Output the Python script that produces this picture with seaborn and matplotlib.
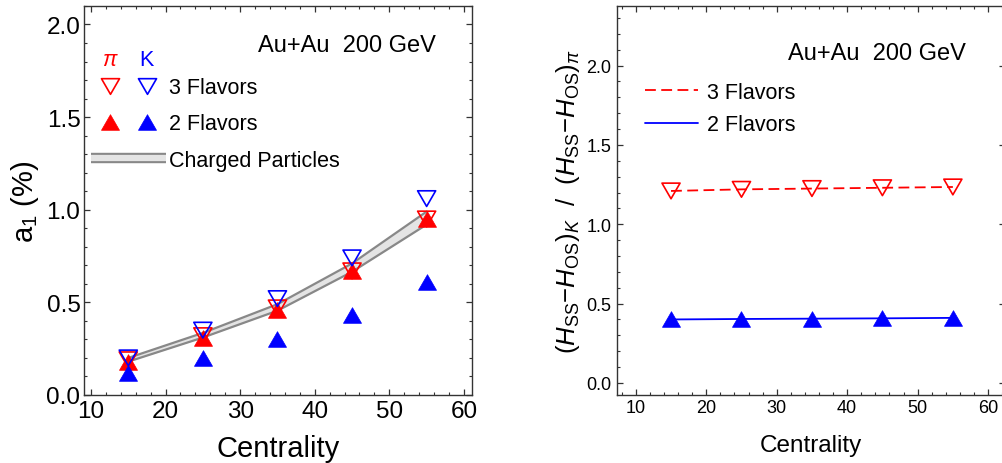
import matplotlib
matplotlib.use("Agg")
import numpy as np
import pandas as pd
import matplotlib.pyplot as plt
import seaborn as sns
from matplotlib.lines import Line2D
from matplotlib.path import Path
from matplotlib.legend_handler import HandlerTuple
from matplotlib.ticker import MultipleLocator

# centrality bins
centrality = [15, 25, 35, 45, 55]

# left panel: a1 (%)
pi_3f = [0.19, 0.32, 0.47, 0.67, 0.95]
k_3f = [0.20, 0.35, 0.52, 0.74, 1.06]
pi_2f = [0.18, 0.31, 0.46, 0.67, 0.95]
k_2f = [0.12, 0.20, 0.30, 0.43, 0.61]
charged_lo = [0.18, 0.31, 0.455, 0.665, 0.92]
charged_hi = [0.20, 0.335, 0.49, 0.71, 0.99]

# right panel: ratio K / pi
ratio_3f = [1.21, 1.22, 1.225, 1.23, 1.235]
ratio_2f = [0.40, 0.403, 0.405, 0.407, 0.41]

df = pd.DataFrame({
    "cent": centrality,
    "pi_3f": pi_3f, "k_3f": k_3f, "pi_2f": pi_2f, "k_2f": k_2f,
    "ch_lo": charged_lo, "ch_hi": charged_hi,
    "r_3f": ratio_3f, "r_2f": ratio_2f,
})

sns.set_style("ticks")
plt.rcParams["font.family"] = ["Liberation Sans", "DejaVu Sans"]
plt.rcParams["mathtext.fontset"] = "custom"
plt.rcParams["mathtext.rm"] = "Liberation Sans"
plt.rcParams["mathtext.it"] = "Liberation Sans:italic"
plt.rcParams["mathtext.bf"] = "Liberation Sans:bold"
plt.rcParams["mathtext.sf"] = "Liberation Sans"
for k in ["text.color", "axes.labelcolor", "xtick.labelcolor", "ytick.labelcolor"]:
    plt.rcParams[k] = "black"

# equilateral triangles (closed paths)
tri_down = Path([(-1, 0.866), (1, 0.866), (0, -0.866), (-1, 0.866)], closed=True)
tri_up = Path([(-1, -0.866), (1, -0.866), (0, 0.866), (-1, -0.866)], closed=True)
ms = 13
frame_col = "#333333"

fig = plt.figure(figsize=(10.03, 4.64), dpi=100)
ax1 = fig.add_axes([0.0837, 0.1466, 0.3868, 0.8384])
ax2 = fig.add_axes([0.6152, 0.1466, 0.3868, 0.8384])

# ---------- left panel ----------
ax1.fill_between(df["cent"], df["ch_lo"], df["ch_hi"], color="#e4e4e4", lw=0, zorder=1)
sns.lineplot(data=df, x="cent", y="ch_lo", color="#888888", lw=1.6, ax=ax1, zorder=2)
sns.lineplot(data=df, x="cent", y="ch_hi", color="#888888", lw=1.6, ax=ax1, zorder=2)

sns.scatterplot(data=df, x="cent", y="pi_2f", marker=tri_up, s=ms**2, color="red",
                edgecolor="red", linewidth=0.5, ax=ax1, zorder=3)
sns.scatterplot(data=df, x="cent", y="pi_3f", marker=tri_down, s=ms**2,
                facecolor="none", edgecolor="red", linewidth=1.2, ax=ax1, zorder=4)
sns.scatterplot(data=df, x="cent", y="k_2f", marker=tri_up, s=ms**2, color="blue",
                edgecolor="blue", linewidth=0.5, ax=ax1, zorder=5)
sns.scatterplot(data=df, x="cent", y="k_3f", marker=tri_down, s=ms**2,
                facecolor="none", edgecolor="blue", linewidth=1.2, ax=ax1, zorder=6)

ax1.set_xlim(9.06, 61.07)
ax1.set_ylim(0, 2.1)
ax1.xaxis.set_major_locator(MultipleLocator(10))
ax1.xaxis.set_minor_locator(MultipleLocator(2))
ax1.yaxis.set_major_locator(MultipleLocator(0.5))
ax1.yaxis.set_minor_locator(MultipleLocator(0.1))
ax1.yaxis.set_major_formatter(plt.FormatStrFormatter("%.1f"))
ax1.tick_params(which="both", direction="in", top=True, right=True, color=frame_col)
ax1.tick_params(which="major", length=4, width=0.9, labelsize=17.5)
ax1.tick_params(which="minor", length=2, width=0.8)
ax1.tick_params(axis="y", pad=2.5)
ax1.tick_params(axis="x", pad=3.5)
ax1.set_xlabel("Centrality", fontsize=21)
ax1.set_ylabel("a$_1$ (%)", fontsize=21)
ax1.xaxis.set_label_coords(0.5, -0.1)
ax1.yaxis.set_label_coords(-0.11, 0.5)

ax1.text(0.448, 0.9, "Au+Au  200 GeV", transform=ax1.transAxes, fontsize=17,
         va="center", ha="left")
ax1.text(0.067, 0.862, r"$\pi$", transform=ax1.transAxes, fontsize=15.5,
         color="red", va="center", ha="center")
ax1.text(0.162, 0.862, "K", transform=ax1.transAxes, fontsize=15.5,
         color="blue", va="center", ha="center")

h3 = (Line2D([], [], ls="none", marker=tri_down, ms=ms, mfc="none", mec="red", mew=1.2),
      Line2D([], [], ls="none", marker=tri_down, ms=ms, mfc="none", mec="blue", mew=1.2))
h2 = (Line2D([], [], ls="none", marker=tri_up, ms=ms, mfc="red", mec="red", mew=0.5),
      Line2D([], [], ls="none", marker=tri_up, ms=ms, mfc="blue", mec="blue", mew=0.5))
hband = (Line2D([], [], color="#888888", lw=7.5, solid_capstyle="butt"),
         Line2D([], [], color="#e4e4e4", lw=4.5, solid_capstyle="butt"))
ax1.legend([h3, h2, hband], ["3 Flavors", "2 Flavors", "Charged Particles"],
           handler_map={h3: HandlerTuple(ndivide=None, pad=0),
                        h2: HandlerTuple(ndivide=None, pad=0),
                        hband: HandlerTuple(ndivide=1)},
           loc="upper left", bbox_to_anchor=(0.019, 0.817), frameon=False,
           fontsize=15.5, handlelength=3.45, handletextpad=0.15, labelspacing=0.71,
           borderpad=0, borderaxespad=0)

# ---------- right panel ----------
sns.lineplot(data=df, x="cent", y="r_3f", color="red", lw=1.3, ax=ax2,
             zorder=2).lines[-1].set_dashes((6, 3))
sns.lineplot(data=df, x="cent", y="r_2f", color="blue", lw=1.3, ax=ax2, zorder=2)
sns.scatterplot(data=df, x="cent", y="r_3f", marker=tri_down, s=ms**2,
                facecolor="none", edgecolor="red", linewidth=1.2, ax=ax2, zorder=3)
sns.scatterplot(data=df, x="cent", y="r_2f", marker=tri_up, s=ms**2, color="blue",
                edgecolor="blue", linewidth=0.5, ax=ax2, zorder=3)

ax2.set_xlim(7.34, 62.4)
ax2.set_ylim(-0.076, 2.376)
ax2.xaxis.set_major_locator(MultipleLocator(10))
ax2.xaxis.set_minor_locator(MultipleLocator(2))
ax2.yaxis.set_major_locator(MultipleLocator(0.5))
ax2.yaxis.set_minor_locator(MultipleLocator(0.1))
ax2.yaxis.set_major_formatter(plt.FormatStrFormatter("%.1f"))
ax2.tick_params(which="both", direction="in", top=True, right=True, color=frame_col)
ax2.tick_params(which="major", length=4, width=0.9, labelsize=13)
ax2.tick_params(which="minor", length=2, width=0.8)
ax2.tick_params(axis="y", pad=4)
ax2.tick_params(axis="x", pad=3)
ax2.set_xlabel("Centrality", fontsize=17.5)
ax2.set_ylabel(r"$(H_{\mathrm{SS}}{-}H_{\mathrm{OS}})_K$  /  $(H_{\mathrm{SS}}{-}H_{\mathrm{OS}})_\pi$",
               fontsize=18.5)
ax2.xaxis.set_label_coords(0.5, -0.1)
ax2.yaxis.set_label_coords(-0.09, 0.5)

ax2.text(0.44, 0.878, "Au+Au  200 GeV", transform=ax2.transAxes, fontsize=17,
         va="center", ha="left")
ax2.legend([Line2D([], [], color="red", lw=1.3, dashes=(6, 3)),
            Line2D([], [], color="blue", lw=1.3)],
           ["3 Flavors", "2 Flavors"], loc="upper left", bbox_to_anchor=(0.072, 0.805),
           frameon=False, fontsize=15.5, handlelength=2.45, handletextpad=0.42,
           labelspacing=0.54, borderpad=0, borderaxespad=0)

for ax in (ax1, ax2):
    for sp in ax.spines.values():
        sp.set_color(frame_col)
        sp.set_linewidth(1.0)

fig.savefig("out.png", dpi=100)
